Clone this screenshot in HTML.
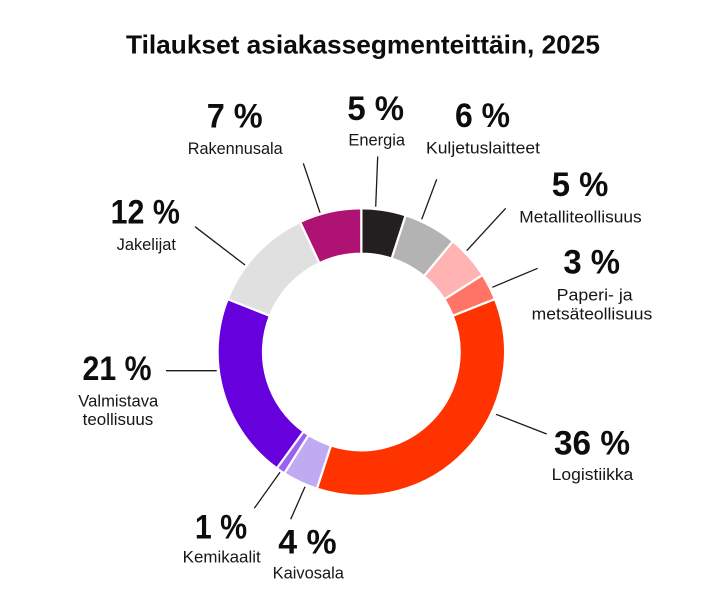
<!DOCTYPE html>
<html>
<head>
<meta charset="utf-8">
<style>
  html, body { margin: 0; padding: 0; background: #ffffff; }
  body { width: 712px; height: 601px; overflow: hidden; }
  svg { display: block; }
  .t { font-family: "Liberation Sans", sans-serif; font-weight: bold; font-size: 26px; fill: #0d0d0d; }
  .p { font-family: "Liberation Sans", sans-serif; font-weight: bold; font-size: 34px; fill: #0d0d0d; }
  .l { font-family: "Liberation Sans", sans-serif; font-size: 16.5px; fill: #161616; }
</style>
</head>
<body>
<svg width="712" height="601" viewBox="0 0 712 601" xmlns="http://www.w3.org/2000/svg">
  <rect width="712" height="601" fill="#ffffff"/>

  <!-- Title -->
  <text class="t" x="363" y="53.5" text-anchor="middle" textLength="474" lengthAdjust="spacingAndGlyphs">Tilaukset asiakassegmenteittäin, 2025</text>

  <!-- Donut -->
  <g stroke="#ffffff" stroke-width="2.2" stroke-linejoin="miter">
    <path fill="#231f20" d="M361.3,208.3 A143.7,143.7 0 0 1 405.71,215.33 L391.68,258.51 A98.3,98.3 0 0 0 361.3,253.7 Z"/>
    <path fill="#b3b3b3" d="M405.71,215.33 A143.7,143.7 0 0 1 452.90,241.28 L423.96,276.26 A98.3,98.3 0 0 0 391.68,258.51 Z"/>
    <path fill="#ffb3b3" d="M452.90,241.28 A143.7,143.7 0 0 1 482.63,275.00 L444.30,299.33 A98.3,98.3 0 0 0 423.96,276.26 Z"/>
    <path fill="#ff7466" d="M482.63,275.00 A143.7,143.7 0 0 1 494.91,299.10 L452.70,315.81 A98.3,98.3 0 0 0 444.30,299.33 Z"/>
    <path fill="#ff3300" d="M494.91,299.10 A143.7,143.7 0 0 1 316.89,488.67 L330.92,445.49 A98.3,98.3 0 0 0 452.70,315.81 Z"/>
    <path fill="#c0aaf2" d="M316.89,488.67 A143.7,143.7 0 0 1 284.30,473.33 L308.63,435.00 A98.3,98.3 0 0 0 330.92,445.49 Z"/>
    <path fill="#9b61f0" d="M284.30,473.33 A143.7,143.7 0 0 1 276.83,468.26 L303.52,431.53 A98.3,98.3 0 0 0 308.63,435.00 Z"/>
    <path fill="#6600dd" d="M276.83,468.26 A143.7,143.7 0 0 1 227.69,299.10 L269.90,315.81 A98.3,98.3 0 0 0 303.52,431.53 Z"/>
    <path fill="#e0e0e0" d="M227.69,299.10 A143.7,143.7 0 0 1 300.12,221.98 L319.45,263.06 A98.3,98.3 0 0 0 269.90,315.81 Z"/>
    <path fill="#ae1373" d="M300.12,221.98 A143.7,143.7 0 0 1 361.3,208.3 L361.3,253.7 A98.3,98.3 0 0 0 319.45,263.06 Z"/>
  </g>

  <!-- Leader lines -->
  <g stroke="#1a1a1a" stroke-width="1.3" fill="none">
    <line x1="303.3" y1="163.3" x2="320" y2="212.7"/>
    <line x1="377.7" y1="156.5" x2="375.7" y2="206.7"/>
    <line x1="436.7" y1="179.3" x2="421.7" y2="219.3"/>
    <line x1="505.7" y1="208.3" x2="466.7" y2="250.7"/>
    <line x1="537.7" y1="268.3" x2="492.3" y2="287.3"/>
    <line x1="496" y1="414.3" x2="546.7" y2="434"/>
    <line x1="195" y1="226.7" x2="245" y2="265"/>
    <line x1="166" y1="370.7" x2="216.7" y2="370.7"/>
    <line x1="280" y1="472.3" x2="254.3" y2="508.3"/>
    <line x1="305" y1="486.7" x2="290.7" y2="519.3"/>
  </g>

  <!-- Labels -->
  <text class="p" x="234.7" y="127.7" text-anchor="middle" textLength="56" lengthAdjust="spacingAndGlyphs">7 %</text>
  <text class="l" x="235.2" y="154" text-anchor="middle" textLength="95" lengthAdjust="spacingAndGlyphs">Rakennusala</text>

  <text class="p" x="375.7" y="120" text-anchor="middle" textLength="56.7" lengthAdjust="spacingAndGlyphs">5 %</text>
  <text class="l" x="376.7" y="145.7" text-anchor="middle" textLength="56.7" lengthAdjust="spacingAndGlyphs">Energia</text>

  <text class="p" x="482.5" y="127.2" text-anchor="middle" textLength="55" lengthAdjust="spacingAndGlyphs">6 %</text>
  <text class="l" x="483" y="153.3" text-anchor="middle" textLength="114" lengthAdjust="spacingAndGlyphs">Kuljetuslaitteet</text>

  <text class="p" x="580" y="196" text-anchor="middle" textLength="56.6" lengthAdjust="spacingAndGlyphs">5 %</text>
  <text class="l" x="580.5" y="222.3" text-anchor="middle" textLength="122.4" lengthAdjust="spacingAndGlyphs">Metalliteollisuus</text>

  <text class="p" x="591.7" y="273.3" text-anchor="middle" textLength="56.7" lengthAdjust="spacingAndGlyphs">3 %</text>
  <text class="l" x="594.7" y="300.7" text-anchor="middle" textLength="76" lengthAdjust="spacingAndGlyphs">Paperi- ja</text>
  <text class="l" x="592" y="319.3" text-anchor="middle" textLength="120.6" lengthAdjust="spacingAndGlyphs">metsäteollisuus</text>

  <text class="p" x="145.3" y="223.3" text-anchor="middle" textLength="69.3" lengthAdjust="spacingAndGlyphs">12 %</text>
  <text class="l" x="146.3" y="250" text-anchor="middle" textLength="59.3" lengthAdjust="spacingAndGlyphs">Jakelijat</text>

  <text class="p" x="117" y="380" text-anchor="middle" textLength="69" lengthAdjust="spacingAndGlyphs">21 %</text>
  <text class="l" x="118.3" y="406.7" text-anchor="middle" textLength="80" lengthAdjust="spacingAndGlyphs">Valmistava</text>
  <text class="l" x="118" y="425" text-anchor="middle" textLength="70.6" lengthAdjust="spacingAndGlyphs">teollisuus</text>

  <text class="p" x="592" y="454.3" text-anchor="middle" textLength="76" lengthAdjust="spacingAndGlyphs">36 %</text>
  <text class="l" x="592.5" y="480" text-anchor="middle" textLength="81.6" lengthAdjust="spacingAndGlyphs">Logistiikka</text>

  <text class="p" x="221" y="538.3" text-anchor="middle" textLength="52.3" lengthAdjust="spacingAndGlyphs">1 %</text>
  <text class="l" x="221.7" y="562.7" text-anchor="middle" textLength="78" lengthAdjust="spacingAndGlyphs">Kemikaalit</text>

  <text class="p" x="307.5" y="553.3" text-anchor="middle" textLength="58.4" lengthAdjust="spacingAndGlyphs">4 %</text>
  <text class="l" x="308.3" y="578.3" text-anchor="middle" textLength="71.3" lengthAdjust="spacingAndGlyphs">Kaivosala</text>
</svg>
</body>
</html>
